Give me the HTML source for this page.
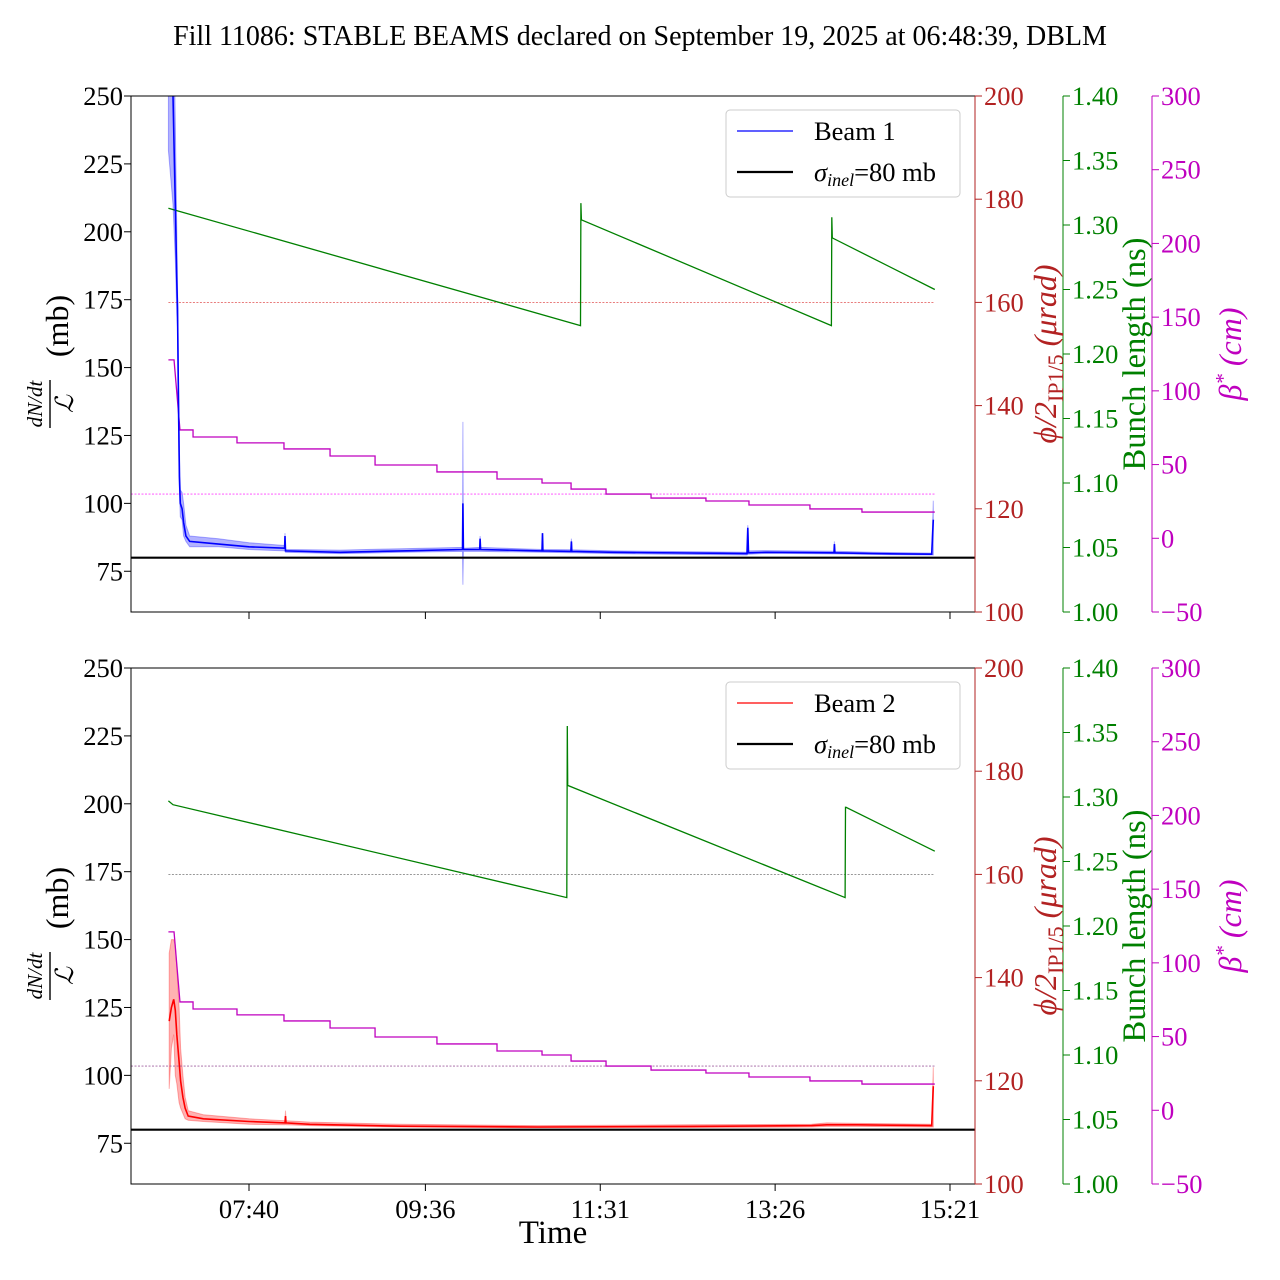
<!DOCTYPE html>
<html><head><meta charset="utf-8"><style>
html,body{margin:0;padding:0;background:#fff}
svg{display:block}
text{font-family:"Liberation Serif",serif}
</style></head><body>
<svg id="chart" width="1280" height="1280" viewBox="0 0 1280 1280" xmlns="http://www.w3.org/2000/svg">
<text x="640" y="45" text-anchor="middle" font-size="28">Fill 11086: STABLE BEAMS declared on September 19, 2025 at 06:48:39, DBLM</text>
</svg>
<script>
// time in minutes since midnight
const xTickLabels = ["07:40","09:36","11:31","13:26","15:21"];
const xTickTimes = [460,576,691,806,921];
const leftTicks = [75,100,125,150,175,200,225,250];
const redTicks = [100,120,140,160,180,200];
const greenTicks = [1.00,1.05,1.10,1.15,1.20,1.25,1.30,1.35,1.40];
const magTicks = [-50,0,50,100,150,200,250,300];

const b1Times = [407,410,411.5,412.5,413,413.6,414.2,414.8,416,417,418.5,421,440,460,483.4,483.7,484,520,560,600.4,600.7,601,611.7,612,612.3,652.7,653,653.3,671.7,672,672.3,700,787.5,788,788.5,800,844.7,845,845.3,870,909,910];
const b1Vals  = [300,250,210,182,172,140,110,100,98,93,88,86,85,84,83.5,88,82.5,82,82.5,83,100,83,83,87,83,82.5,89,82.5,82.3,86,82.3,82,81.5,91,81.8,82,81.8,85,81.8,81.5,81.3,94];
const b1Lo    = [230,210,190,170,165,130,105,95,94,88,86,84,84,83,82.5,83,82,81.5,82,82.3,70,82.3,82.3,82.3,82.3,82,82,82,81.8,81.8,81.8,81.5,81,81.3,81.3,81.6,81.4,81.4,81.4,81.2,81,81];
const b1Hi    = [320,300,240,200,180,150,120,105,104,100,92,88,87,85.5,84.5,89,83,82.8,83.3,83.8,130,83.5,83.8,88,83.8,83,89,83,82.9,87,82.9,82.5,82,92,82.5,82.6,82.4,86,82.4,82,81.7,101];

const b2Times = [407.5,409,410.5,411.5,412.5,414,415,416.5,418,420,430,460,483.7,484,484.3,500,560,650,750,830,840,860,909,910];
const b2Vals  = [120,125,128,124,115,105,98,92,88,85,84,83,82.5,85,82.5,82,81.3,81,81.2,81.5,81.8,81.8,81.5,96];
const b2Lo    = [95,110,115,100,97,90,88,86,84,83.5,83,82,81.8,82,81.8,81.5,81,80.7,80.8,81,81.2,81.2,81,81];
const b2Hi    = [145,150,150,148,140,125,110,100,92,87,85.5,84,83.3,87,83.3,82.8,82,81.5,81.8,82,82.5,82.3,82,103];

const g1Times = [407,678,678.3,678.6,843,843.3,843.6,911];
const g1Vals  = [1.313,1.222,1.317,1.304,1.222,1.306,1.290,1.250];
const g2Times = [407,410,669,669.3,669.6,852,852.3,852.6,911];
const g2Vals  = [1.297,1.294,1.222,1.355,1.309,1.222,1.292,1.292,1.258];

const bStepTimes = [407,410.7,414.6,423.2,452.1,483,513.3,542.9,583.6,623.1,652.7,671.8,694.8,724.4,760.5,788.8,828.9,863.1,911];
const bStepVals  = [121,121,73.5,68.7,64.7,60.6,55.8,49.7,45,40.2,37.5,33.4,30,27.3,25.3,22.6,19.9,17.8,17.8];

const refAngle = 160, refBeta = 30, sigmaInel = 80;

const NS="http://www.w3.org/2000/svg";
const svg=document.getElementById('chart');
const X0=131,X1=975;
const xs=t=>249+(t-460)*1.5206;
function el(tag,attrs,parent){const e=document.createElementNS(NS,tag);for(const k in attrs)e.setAttribute(k,attrs[k]);(parent||svg).appendChild(e);return e;}

function panel(top,idx,beamName,color,times,vals,lo,hi,gT,gV,refColor){
  const bot=top+516;
  const g=el('g',{});
  
  
  const clipId='clip'+idx;
  const cp=el('clipPath',{id:clipId},g);el('rect',{x:X0,y:top,width:X1-X0,height:516},cp);
  const yL=v=>top+(250-v)*516/190;
  const yR=v=>top+(200-v)*516/100;
  const yG=v=>top+(1.40-v)*516/0.40;
  const yM=v=>top+(300-v)*516/350;
  const plot=el('g',{'clip-path':'url(#'+clipId+')'},g);
  let d='';
  times.forEach((t,i)=>{d+=(i?'L':'M')+xs(t).toFixed(1)+','+yL(hi[i]).toFixed(1);});
  for(let i=times.length-1;i>=0;i--)d+='L'+xs(times[i]).toFixed(1)+','+yL(lo[i]).toFixed(1);
  const band=el('path',{d:d+'Z',fill:color,'fill-opacity':0.3,stroke:color,'stroke-opacity':0.3,'stroke-width':1},plot);
  
  
  const rl=el('line',{x1:xs(407),x2:xs(911),y1:yR(refAngle),y2:yR(refAngle),stroke:refColor[0],'stroke-width':0.8,'stroke-dasharray':'2,1.5'},plot);
  
  
  const ml=el('line',{x1:X0,x2:xs(911),y1:yM(refBeta),y2:yM(refBeta),stroke:refColor[1],'stroke-width':0.8,'stroke-dasharray':'2,1.5'},plot);
  
  
  const gl=el('polyline',{points:gT.map((t,i)=>xs(t).toFixed(1)+','+yG(gV[i]).toFixed(1)).join(' '),fill:'none',stroke:'#008000','stroke-width':1.3},plot);
  
  
  let p='';
  bStepTimes.forEach((t,i)=>{
    if(i===0){p+=xs(t)+','+yM(bStepVals[i]);return;}
    if(i===2){p+=' '+xs(t)+','+yM(bStepVals[i]);return;}
    p+=' '+xs(t)+','+yM(bStepVals[i-1])+' '+xs(t)+','+yM(bStepVals[i]);
  });
  const bl=el('polyline',{points:p,fill:'none',stroke:'#bf00bf','stroke-width':1.3},plot);
  
  
  const ml2=el('polyline',{points:times.map((t,i)=>xs(t).toFixed(1)+','+yL(vals[i]).toFixed(1)).join(' '),fill:'none',stroke:color,'stroke-width':1.6},plot);
  
  
  const sl=el('line',{x1:X0,x2:X1,y1:yL(sigmaInel),y2:yL(sigmaInel),stroke:'#000','stroke-width':2.2},plot);
  
  
  el('rect',{x:X0,y:top,width:X1-X0,height:516,fill:'none',stroke:'#000','stroke-width':1},g);
  leftTicks.forEach(v=>{const y=yL(v);el('line',{x1:X0-7,x2:X0,y1:y,y2:y,stroke:'#000'},g);
    const t=el('text',{x:X0-8,y:y+9,'text-anchor':'end','font-size':26.5},g);t.textContent=v;
    });
  xTickTimes.forEach((tt,i)=>{const x=xs(tt);el('line',{x1:x,x2:x,y1:bot,y2:bot+7,stroke:'#000'},g);
    if(idx===1){const t=el('text',{x:x,y:bot+34,'text-anchor':'middle','font-size':26.5},g);t.textContent=xTickLabels[i];
      }});
  const axes=[[975,'#b22222',redTicks,yR,v=>v],[1063,'#008000',greenTicks,yG,v=>v.toFixed(2)],[1152,'#bf00bf',magTicks,yM,v=>v<0?'\u2212'+(-v):v]];
  axes.forEach(([ax,c,ticks,f,fmt])=>{
    el('line',{x1:ax,x2:ax,y1:top,y2:bot,stroke:c,'stroke-width':1},g);
    ticks.forEach(v=>{const y=f(v);el('line',{x1:ax,x2:ax+7,y1:y,y2:y,stroke:c},g);
      const t=el('text',{x:ax+9,y:y+9,'font-size':26.5,fill:c},g);t.textContent=fmt(v);
      });
  });
  const cy=top+258;
  const ll=el('g',{transform:`translate(58,${cy}) rotate(-90)`},g);
  
  let t=el('text',{x:-50,y:-16,'text-anchor':'middle','font-size':21,'font-style':'italic'},ll);t.textContent='dN/dt';
  el('line',{x1:-74,x2:-26,y1:-8,y2:-8,stroke:'#000','stroke-width':1.4},ll);
  t=el('text',{x:-50,y:15,'text-anchor':'middle','font-size':25,'font-style':'italic'},ll);t.textContent='\u2112';
  t=el('text',{x:28,y:10,'text-anchor':'middle','font-size':32},ll);t.textContent='(mb)';
  const rlab=el('text',{transform:`translate(1056,${cy}) rotate(-90)`,'text-anchor':'middle','font-size':32,fill:'#b22222','font-style':'italic'},g);
  rlab.innerHTML='\u03D5/2<tspan font-style="normal" font-size="22" dy="7">IP1/5</tspan><tspan dy="-7"> (\u03BCrad)</tspan>';
  
  const glab=el('text',{transform:`translate(1145,${cy}) rotate(-90)`,'text-anchor':'middle','font-size':32.5,fill:'#008000'},g);
  glab.textContent='Bunch length (ns)';
  
  const mlab=el('text',{transform:`translate(1241,${cy}) rotate(-90)`,'text-anchor':'middle','font-size':32,fill:'#bf00bf','font-style':'italic'},g);
  mlab.innerHTML='\u03B2<tspan font-size="21" dy="-11">*</tspan><tspan dy="11"> (cm)</tspan>';
  
  const lg=el('g',{},g);
  
  el('rect',{x:726,y:top+14,width:234,height:87,rx:4,fill:'#fff','fill-opacity':0.8,stroke:'#ccc'},lg);
  el('line',{x1:737,x2:793,y1:top+35,y2:top+35,stroke:color,'stroke-width':1.2},lg);
  t=el('text',{x:814,y:top+44,'font-size':26.5},lg);t.textContent=beamName;
  
  el('line',{x1:737,x2:793,y1:top+76,y2:top+76,stroke:'#000','stroke-width':2.2},lg);
  t=el('text',{x:814,y:top+85,'font-size':26.5},lg);
  t.innerHTML='<tspan font-style="italic">\u03C3</tspan><tspan font-style="italic" font-size="18" dy="5">inel</tspan><tspan dy="-5">=80 mb</tspan>';
  
}
panel(96,0,'Beam 1','#0000ff',b1Times,b1Vals,b1Lo,b1Hi,g1Times,g1Vals,['#e05050','#ff40ff']);
panel(668,1,'Beam 2','#ff0000',b2Times,b2Vals,b2Lo,b2Hi,g2Times,g2Vals,['#777','#a060a0']);
const xt=el('text',{x:553,y:1243,'text-anchor':'middle','font-size':33});
xt.textContent='Time';


</script>
</body></html>
